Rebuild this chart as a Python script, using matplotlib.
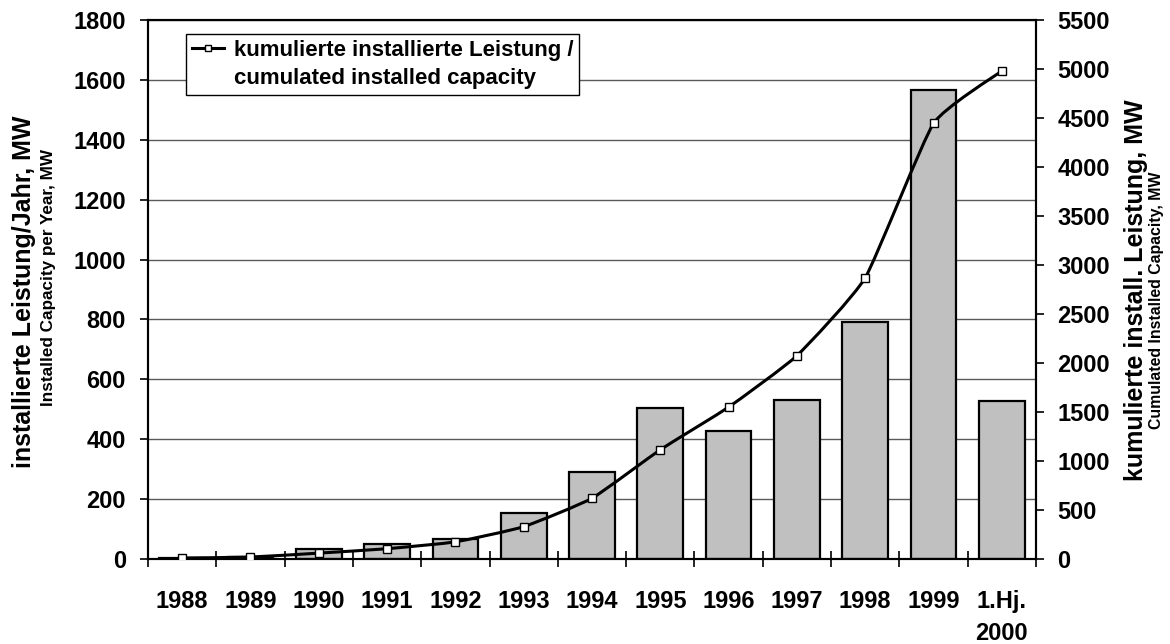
import matplotlib
matplotlib.use("Agg")
import matplotlib.pyplot as plt
from matplotlib.path import Path
from matplotlib.patches import PathPatch
from matplotlib.lines import Line2D
import numpy as np

categories = ["1988", "1989", "1990", "1991", "1992", "1993", "1994",
              "1995", "1996", "1997", "1998", "1999", "1.Hj.\n2000"]
annual_mw = [3, 8, 35, 50, 68, 153, 290, 503, 427, 532, 790, 1565, 527]
cumulative_mw = [10, 20, 60, 105, 175, 330, 620, 1115, 1550, 2075, 2870, 4445, 4980]
left_ticks = [0, 200, 400, 600, 800, 1000, 1200, 1400, 1600, 1800]
right_ticks = [0, 500, 1000, 1500, 2000, 2500, 3000, 3500, 4000, 4500, 5000, 5500]
legend_lines = ["kumulierte installierte Leistung /", "cumulated installed capacity"]

plt.rcParams['font.family'] = ['Liberation Sans', 'DejaVu Sans']
plt.rcParams['font.weight'] = 'bold'

W, H = 1170, 644
fig = plt.figure(figsize=(W / 100, H / 100), dpi=100)
ax_l, ax_r, ax_t, ax_b = 148, 1036, 20, 559
ax = fig.add_axes([ax_l / W, 1 - ax_b / H, (ax_r - ax_l) / W, (ax_b - ax_t) / H])
x = np.arange(len(categories))

ax.bar(x, annual_mw, width=0.67, color='#C0C0C0', edgecolor='black', linewidth=1.6, zorder=2)
ax.set_ylim(0, 1800)
ax.set_xlim(-0.5, len(categories) - 0.5)
ax.set_yticks(left_ticks)
ax.set_yticklabels([str(t) for t in left_ticks], fontsize=17, fontweight='bold')
ax.yaxis.grid(True, color='#5a5a5a', linewidth=1.0, zorder=0)
ax.set_axisbelow(True)
ax.set_xticks(x)
ax.set_xticklabels(categories, fontsize=17, fontweight='bold', linespacing=1.55, va='top')
ax.tick_params(axis='x', length=0, pad=22)
ax.set_xticks(np.arange(len(categories) + 1) - 0.5, minor=True)
ax.tick_params(axis='x', which='minor', direction='inout', length=11, width=1.2)
ax.tick_params(axis='y', direction='out', length=6, width=1.2, pad=10)
for s in ax.spines.values():
    s.set_linewidth(1.5)

ax2 = ax.twinx()
ax2.set_ylim(0, 5500)
ax2.set_yticks(right_ticks)
ax2.set_yticklabels([str(t) for t in right_ticks], fontsize=17, fontweight='bold')
ax2.tick_params(axis='y', direction='out', length=6, width=1.2, pad=9.5)
for s in ax2.spines.values():
    s.set_linewidth(1.5)

# smoothed line (Bezier segments through the data points, like Excel smoothing)
pts = np.column_stack([x.astype(float), np.array(cumulative_mw, dtype=float)])
tension = 1.0 / 13.0
verts = [tuple(pts[0])]
codes = [Path.MOVETO]
n = len(pts)
for i in range(n - 1):
    p0 = pts[i - 1] if i > 0 else pts[i]
    p1 = pts[i]
    p2 = pts[i + 1]
    p3 = pts[i + 2] if i + 2 < n else pts[i + 1]
    c1 = p1 + (p2 - p0) * tension
    c2 = p2 - (p3 - p1) * tension
    verts += [tuple(c1), tuple(c2), tuple(p2)]
    codes += [Path.CURVE4, Path.CURVE4, Path.CURVE4]
patch = PathPatch(Path(verts, codes), facecolor='none', edgecolor='black', linewidth=2.2,
                  zorder=3, capstyle='round', joinstyle='round')
ax2.add_patch(patch)
ax2.plot(x, cumulative_mw, linestyle='none', marker='s', markersize=5.5,
         markerfacecolor='white', markeredgecolor='black', markeredgewidth=1.0, zorder=4)

handle = Line2D([], [], color='black', linewidth=2.2, marker='s', markersize=5,
                markerfacecolor='white', markeredgecolor='black', markeredgewidth=1.0)
blank = Line2D([], [], color='none')
leg = ax2.legend([handle, blank], legend_lines,
                 loc='upper left', bbox_to_anchor=((186 - ax_l) / (ax_r - ax_l), (ax_b - 34) / (ax_b - ax_t)),
                 borderaxespad=0, frameon=True, fancybox=False,
                 edgecolor='black', framealpha=1, handlelength=1.45, handletextpad=0.45,
                 borderpad=0.25, labelspacing=0.35, prop={'size': 16, 'weight': 'bold'})
leg.get_frame().set_linewidth(1.0)

# axis titles
fig.text(24 / W, 1 - 292 / H, "installierte Leistung/Jahr, MW", rotation=90, ha='center', va='center',
         fontsize=18, fontweight='bold')
fig.text(49 / W, 1 - 277 / H, "Installed Capacity per Year, MW", rotation=90, ha='center', va='center',
         fontsize=12.3, fontweight='bold')
fig.text(1136 / W, 1 - 290 / H, "kumulierte install. Leistung, MW", rotation=90, ha='center', va='center',
         fontsize=18, fontweight='bold')
fig.text(1157 / W, 1 - 300 / H, "Cumulated Installed Capacity, MW", rotation=90, ha='center', va='center',
         fontsize=11.4, fontweight='bold')

fig.savefig("out.png", dpi=100)
